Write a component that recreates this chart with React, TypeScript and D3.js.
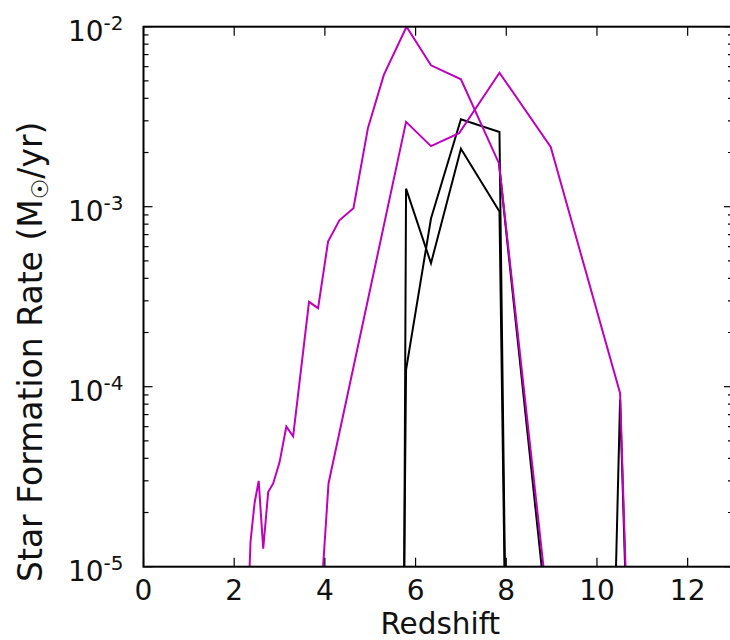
import React from "react";
import * as d3 from "d3";

// ---- data ----
const magentaAz = [2.34, 2.36, 2.45, 2.54, 2.64, 2.75, 2.86, 3.0, 3.15, 3.3, 3.65, 3.85, 4.07, 4.32, 4.63, 4.95, 5.3, 5.8, 6.34, 7.0, 7.84, 8.82];
const magentaAv = [1e-5, 1.38e-5, 2.26e-5, 3.0e-5, 1.26e-5, 2.6e-5, 2.9e-5, 3.8e-5, 6.0e-5, 5.3e-5, 2.96e-4, 2.73e-4, 6.4e-4, 8.4e-4, 9.8e-4, 2.74e-3, 5.4e-3, 1.0e-2, 6.1e-3, 5.1e-3, 1.74e-3, 1e-5];

const magentaBz = [3.96, 4.08, 5.79, 6.34, 6.96, 7.85, 8.98, 10.51, 10.63];
const magentaBv = [1e-5, 2.9e-5, 2.96e-3, 2.17e-3, 2.56e-3, 5.55e-3, 2.15e-3, 9.2e-5, 1e-5];

const blackAz = [5.75, 5.79, 6.34, 7.0, 7.85, 7.96];
const blackAv = [1e-5, 1.26e-3, 4.85e-4, 2.1e-3, 9.4e-4, 1e-5];

const blackBz = [5.75, 5.79, 6.34, 7.0, 7.85, 7.97];
const blackBv = [1e-5, 1.24e-4, 8.6e-4, 3.06e-3, 2.6e-3, 1e-5];

const blackCz = [7.84, 8.78];
const blackCv = [1.74e-3, 1e-5];

const blackDz = [10.42, 10.51, 10.62];
const blackDv = [1e-5, 8.5e-5, 1e-5];

const xTicks = [0, 2, 4, 6, 8, 10, 12];
const yDecades = [-5, -4, -3, -2];

const xLabel = "Redshift";

// ---- layout ----
const W = 730, H = 640;
const L = 143.5, R = 733, T = 26.7, B = 566.7;
const FONT = "'DejaVu Sans', sans-serif";
const MAG = "#bf00bf";

export default function App() {
  const x = d3.scaleLinear().domain([0, 13]).range([L, R]);
  const y = d3.scaleLog().domain([1e-5, 1e-2]).range([B, T]);
  const line = d3.line<[number, number]>().x(d => x(d[0])).y(d => y(d[1]));
  const mk = (zs: number[], vs: number[]) => line(zs.map((z, i) => [z, vs[i]] as [number, number])) || "";

  const minor: number[] = [];
  for (let e = -5; e < -2; e++) for (let m = 2; m <= 9; m++) minor.push(m * Math.pow(10, e));

  const blacks = [[blackAz, blackAv], [blackBz, blackBv], [blackCz, blackCv], [blackDz, blackDv]];
  const mags = [[magentaAz, magentaAv], [magentaBz, magentaBv]];

  return (
    <svg width={W} height={H} style={{ position: "absolute", left: 0, top: 0, background: "#fff" }} fontFamily={FONT}>
      <defs>
        <clipPath id="plot"><rect x={L} y={T} width={R - L} height={B - T} /></clipPath>
      </defs>
      <g clipPath="url(#plot)" fill="none" strokeWidth={2} strokeLinejoin="miter">
        {blacks.map((s, i) => <path key={"k" + i} d={mk(s[0], s[1])} stroke="#000" />)}
        {mags.map((s, i) => <path key={"m" + i} d={mk(s[0], s[1])} stroke={MAG} />)}
      </g>
      {/* ticks */}
      <g stroke="#000" strokeWidth={1.2}>
        {xTicks.map(t => (
          <g key={"xt" + t}>
            <line x1={x(t)} x2={x(t)} y1={B} y2={B - 9} />
            <line x1={x(t)} x2={x(t)} y1={T} y2={T + 9} />
          </g>
        ))}
        {yDecades.map(e => (
          <g key={"yt" + e}>
            <line x1={L} x2={L + 9} y1={y(Math.pow(10, e))} y2={y(Math.pow(10, e))} />
            <line x1={R} x2={R - 9} y1={y(Math.pow(10, e))} y2={y(Math.pow(10, e))} />
          </g>
        ))}
        {minor.map((v, i) => (
          <g key={"mn" + i}>
            <line x1={L} x2={L + 5} y1={y(v)} y2={y(v)} />
            <line x1={R} x2={R - 5} y1={y(v)} y2={y(v)} />
          </g>
        ))}
      </g>
      <rect x={L} y={T} width={R - L} height={B - T} fill="none" stroke="#000" strokeWidth={2} />
      {/* tick labels */}
      {xTicks.map(t => (
        <text key={"xl" + t} x={x(t)} y={600} fontSize={28} textAnchor="middle" fill="#111">{t}</text>
      ))}
      {yDecades.map(e => (
        <text key={"yl" + e} x={123.5} y={y(Math.pow(10, e)) + 14} fontSize={28} textAnchor="end" fill="#111">
          10<tspan fontSize={20} dy={-11}>{"-" + Math.abs(e)}</tspan>
        </text>
      ))}
      {/* axis labels */}
      <text x={(L + R) / 2 + 2} y={634} fontSize={29.5} textAnchor="middle" fill="#111">{xLabel}</text>
      <text transform="translate(42,582) rotate(-90)" fontSize={33} fill="#111">
        Star Formation Rate (M<tspan fontSize={23} dy={6}>☉</tspan><tspan dy={-6}>/yr)</tspan>
      </text>
    </svg>
  );
}
